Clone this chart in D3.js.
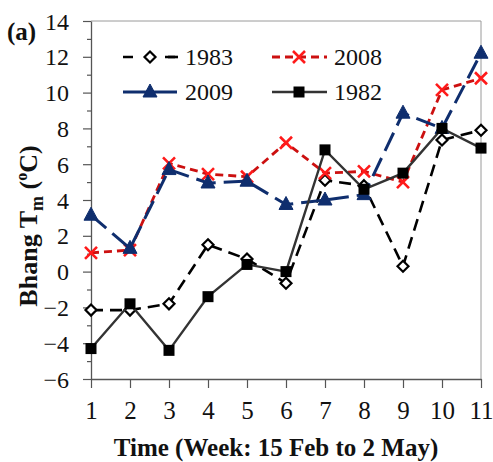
<!DOCTYPE html>
<html>
<head>
<meta charset="utf-8">
<script src="https://cdn.jsdelivr.net/npm/d3@7"></script>
<style>
  html, body { margin: 0; padding: 0; background: #fff; }
  svg { display: block; font-family: "Liberation Serif", "Times New Roman", serif; }
</style>
</head>
<body>
<svg id="chart" width="493" height="462"></svg>
<script>
// Weekly mean temperature at Bhang, weeks 1–11 (15 Feb to 2 May)
const weeks = [1, 2, 3, 4, 5, 6, 7, 8, 9, 10, 11];
const tm1983 = [-2.15, -2.15, -1.8, 1.5, 0.7, -0.65, 5.1, 4.8, 0.3, 7.35, 7.9];
const tm2008 = [1.05, 1.2, 6.05, 5.45, 5.3, 7.2, 5.5, 5.6, 5.0, 10.15, 10.8];
const tm2009 = [3.15, 1.3, 5.7, 4.95, 5.05, 3.75, 4.0, 4.3, 8.85, 8.0, 12.2];
const tm1982 = [-4.3, -1.8, -4.4, -1.4, 0.4, 0.0, 6.8, 4.6, 5.5, 8.0, 6.9];
const yMajorTicks = [-6, -4, -2, 0, 2, 4, 6, 8, 10, 12, 14];
const yMinorTicks = [-5, -3, -1, 1, 3, 5, 7, 9, 11, 13];

const svg = d3.select("#chart");
const x = d3.scaleLinear().domain([1, 11]).range([91, 481]);
const y = d3.scaleLinear().domain([-6, 14]).range([379, 21]);

// plot frame (top and right edges)
svg.append("path")
  .attr("d", `M${x(1)},${y(14)}H${x(11)}V${y(-6)}`)
  .attr("fill", "none").attr("stroke", "#9a9a9a").attr("stroke-width", 1);

// y axis: minor ticks, then major ticks with labels
svg.append("g").attr("transform", `translate(${x(1)},0)`)
  .call(d3.axisLeft(y).tickValues(yMinorTicks).tickSize(4).tickFormat(""))
  .call(g => g.select(".domain").remove())
  .call(g => g.selectAll("line").attr("stroke", "#555").attr("stroke-width", 1.2));

const yAxis = svg.append("g").attr("transform", `translate(${x(1)},0)`)
  .call(d3.axisLeft(y).tickValues(yMajorTicks).tickSize(8).tickPadding(14).tickSizeOuter(0));
yAxis.select(".domain").attr("stroke", "#555").attr("stroke-width", 1.3);
yAxis.selectAll("line").attr("stroke", "#555").attr("stroke-width", 1.2);
yAxis.selectAll("text")
  .attr("font-family", "Liberation Serif, serif").attr("font-size", 24).attr("fill", "#111")
  .attr("dy", "0.34em");

// x axis
const xAxis = svg.append("g").attr("transform", `translate(0,${y(-6)})`)
  .call(d3.axisBottom(x).tickValues(weeks).tickSize(9).tickPadding(13).tickSizeOuter(0).tickFormat(d3.format("d")));
xAxis.select(".domain").attr("stroke", "#555").attr("stroke-width", 1.3);
xAxis.selectAll("line").attr("stroke", "#555").attr("stroke-width", 1.2);
xAxis.selectAll("text")
  .attr("font-family", "Liberation Serif, serif").attr("font-size", 25).attr("fill", "#111");

// series definitions
const series = [
  { name: "1983", values: tm1983, stroke: "#000", dash: "12,7", width: 2.6, marker: "diamond" },
  { name: "2008", values: tm2008, stroke: "#cc1010", dash: "8,5", width: 2.8, marker: "cross" },
  { name: "2009", values: tm2009, stroke: "#0f2e6e", dash: "20,8", width: 3, marker: "triangle" },
  { name: "1982", values: tm1982, stroke: "#333", dash: null, width: 2.4, marker: "square" }
];

function drawMarker(g, type, cx, cy) {
  if (type === "diamond") {
    g.append("path").attr("d", `M${cx},${cy - 5.5}L${cx + 5.5},${cy}L${cx},${cy + 5.5}L${cx - 5.5},${cy}Z`)
      .attr("fill", "#fff").attr("stroke", "#000").attr("stroke-width", 2.2);
  } else if (type === "cross") {
    g.append("path").attr("d", `M${cx - 6},${cy - 6}L${cx + 6},${cy + 6}M${cx - 6},${cy + 6}L${cx + 6},${cy - 6}`)
      .attr("stroke", "#ff1a1a").attr("stroke-width", 2.6).attr("fill", "none");
  } else if (type === "triangle") {
    g.append("path").attr("d", `M${cx},${cy - 8}L${cx + 7},${cy + 5}L${cx - 7},${cy + 5}Z`)
      .attr("fill", "#0f2e6e").attr("stroke", "#0f2e6e").attr("stroke-width", 1);
  } else if (type === "square") {
    g.append("rect").attr("x", cx - 5.5).attr("y", cy - 5.5).attr("width", 11).attr("height", 11)
      .attr("fill", "#000");
  }
}

const line = d3.line().x((d, i) => x(weeks[i])).y(d => y(d));

series.forEach(s => {
  const g = svg.append("g");
  g.append("path").datum(s.values).attr("d", line)
    .attr("fill", "none").attr("stroke", s.stroke).attr("stroke-width", s.width)
    .attr("stroke-dasharray", s.dash);
  s.values.forEach((v, i) => drawMarker(g, s.marker, x(weeks[i]), y(v)));
});

// legend: two rows, two columns
const legendPos = {
  "1983": [123, 57], "2008": [272, 57],
  "2009": [123, 92], "1982": [272, 92]
};
series.forEach(s => {
  const [lx, ly] = legendPos[s.name];
  const g = svg.append("g");
  g.append("line").attr("x1", lx).attr("x2", lx + 55).attr("y1", ly).attr("y2", ly)
    .attr("stroke", s.stroke).attr("stroke-width", s.width)
    .attr("stroke-dasharray", s.dash ? (s.name === "2009" ? "24,6" : (s.name === "1983" ? "10,32" : "8,5")) : null);
  if (s.name === "1983") {
    g.append("line").attr("x1", lx + 45).attr("x2", lx + 55).attr("y1", ly).attr("y2", ly)
      .attr("stroke", s.stroke).attr("stroke-width", s.width);
  }
  drawMarker(g, s.marker, lx + 27, ly);
  g.append("text").attr("x", lx + 62).attr("y", ly + 8)
    .attr("font-size", 24).attr("fill", "#111").text(s.name);
});

// panel label
svg.append("text").attr("x", 7).attr("y", 40)
  .attr("font-size", 25).attr("font-weight", "bold").attr("fill", "#111").text("(a)");

// axis titles
svg.append("text").attr("x", 276).attr("y", 456).attr("text-anchor", "middle")
  .attr("font-size", 25).attr("font-weight", "bold").attr("fill", "#111")
  .text("Time (Week: 15 Feb to 2 May)");

const yt = svg.append("text").attr("transform", "translate(37,226) rotate(-90)")
  .attr("text-anchor", "middle").attr("font-size", 26).attr("font-weight", "bold").attr("fill", "#111");
yt.append("tspan").text("Bhang T");
yt.append("tspan").attr("font-size", 18).attr("dy", 6).text("m");
yt.append("tspan").attr("dy", -6).text(" (");
yt.append("tspan").attr("font-size", 16).attr("dy", -10).text("o");
yt.append("tspan").attr("dy", 10).text("C)");
</script>
</body>
</html>
